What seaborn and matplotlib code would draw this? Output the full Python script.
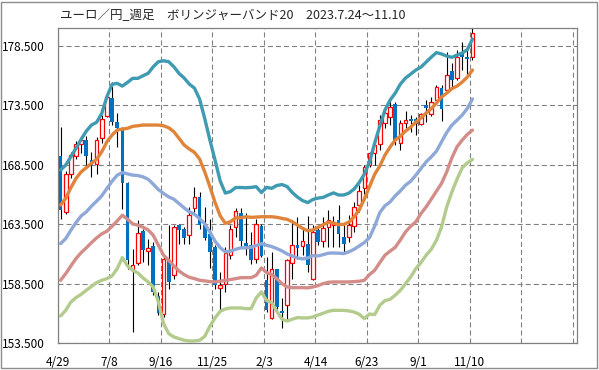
import numpy as np
import pandas as pd
import matplotlib
matplotlib.use("Agg")
import matplotlib.pyplot as plt
import seaborn as sns

# weekly candles, 2022/4/29 - 2023/11/10 (81 weeks)
opens = [169.23, 164.54, 167.77, 169.23, 170.24, 170.63, 168.89, 168.53, 170.78, 172.63,
         174.09, 172.07, 171.56, 167.01, 159.62, 160.27, 162.94, 161.25, 161.65, 157.43,
         155.97, 160.52, 159.20, 163.47, 163.13, 162.57, 164.90, 165.75, 163.47, 162.71,
         161.59, 158.13, 158.50, 160.89, 163.28, 164.48, 161.96, 161.73, 160.55, 163.33,
         158.78, 155.63, 159.71, 156.20, 156.73, 160.27, 161.79, 161.67, 161.81, 158.92,
         163.05, 162.10, 163.28, 163.47, 163.84, 162.43, 162.43, 163.36, 165.10, 166.51,
         168.47, 169.46, 170.24, 171.98, 172.54, 173.61, 170.30, 171.98, 172.32, 172.40,
         171.90, 173.53, 172.74, 173.95, 174.99, 174.79, 176.42, 175.78, 177.88, 177.54,
         177.60]
highs = [171.65, 168.00, 169.60, 170.49, 170.92, 170.92, 169.60, 170.86, 172.69, 174.51,
         175.49, 172.83, 171.70, 167.07, 161.45, 163.84, 163.13, 162.29, 162.01, 157.80,
         160.89, 163.47, 163.42, 163.50, 163.28, 164.96, 166.65, 166.22, 164.96, 163.98,
         161.73, 159.48, 161.59, 163.47, 164.88, 164.88, 164.48, 162.85, 163.98, 163.56,
         160.75, 161.17, 159.76, 157.29, 160.61, 163.70, 164.12, 163.28, 164.20, 163.42,
         163.28, 164.12, 164.68, 164.20, 165.16, 163.42, 164.26, 165.38, 166.84, 168.47,
         169.60, 170.49, 172.69, 173.25, 173.95, 173.81, 172.26, 173.05, 172.69, 172.54,
         172.83, 173.95, 174.23, 175.21, 175.21, 178.02, 177.04, 178.16, 178.87, 178.30,
         180.13]
lows = [163.98, 164.40, 167.35, 169.03, 169.46, 168.33, 167.49, 167.77, 170.30, 172.54,
        171.84, 170.02, 164.82, 159.76, 154.43, 160.05, 160.33, 160.05, 157.52, 155.83,
        155.69, 158.08, 158.92, 161.87, 161.87, 161.87, 164.54, 163.13, 162.15, 159.82,
        158.08, 156.11, 157.80, 160.61, 162.43, 161.59, 160.89, 160.19, 160.27, 160.75,
        156.11, 155.55, 156.39, 154.76, 155.55, 158.92, 160.61, 160.89, 159.48, 158.78,
        161.73, 161.59, 161.59, 161.59, 161.59, 161.17, 162.01, 162.85, 164.54, 166.08,
        168.33, 168.47, 169.74, 171.56, 171.84, 170.16, 169.74, 171.56, 171.28, 171.00,
        171.84, 172.12, 172.60, 173.67, 172.21, 174.65, 174.93, 175.63, 176.48, 176.06,
        177.32]
closes = [164.68, 167.77, 169.31, 170.24, 170.63, 169.26, 168.47, 170.63, 172.32, 174.23,
          172.12, 171.56, 166.93, 160.47, 160.10, 162.77, 161.37, 161.53, 157.80, 156.06,
          160.61, 158.64, 163.28, 163.05, 162.35, 164.31, 165.75, 163.47, 162.35, 161.17,
          158.36, 158.42, 161.08, 163.08, 164.62, 162.10, 161.67, 160.47, 163.50, 160.83,
          156.25, 159.71, 156.53, 156.06, 160.47, 161.79, 161.50, 162.10, 160.05, 162.85,
          162.01, 163.19, 163.84, 163.70, 162.66, 161.81, 163.42, 164.96, 166.28, 168.33,
          169.46, 170.16, 172.26, 172.83, 173.39, 170.52, 171.98, 172.26, 172.21, 171.90,
          172.74, 173.25, 173.75, 175.07, 173.16, 176.06, 175.63, 177.60, 177.60, 177.43,
          179.57]

# bollinger band lines, top to bottom
band_a = [168.06, 168.48, 169.18, 169.89, 170.65, 171.34, 171.85, 172.08, 172.83, 174.23,
          175.28, 175.36, 175.13, 175.44, 175.78, 175.78, 176.00, 176.20, 176.76, 177.18,
          177.26, 177.18, 176.76, 176.20, 175.81, 175.30, 174.96, 174.04, 172.39, 170.59,
          168.90, 167.14, 166.12, 166.25, 166.59, 166.59, 166.57, 166.60, 166.66, 166.17,
          166.60, 166.52, 166.76, 166.84, 166.67, 166.17, 165.79, 165.49, 165.32, 165.58,
          165.70, 165.76, 165.96, 166.14, 165.96, 165.96, 166.12, 166.46, 167.01, 167.72,
          168.73, 170.33, 171.77, 173.11, 173.95, 174.54, 175.30, 175.81, 176.14, 176.48,
          176.73, 177.15, 177.57, 177.95, 177.83, 177.66, 177.55, 177.74, 177.91, 178.20,
          179.09]
band_b = [165.11, 165.68, 166.57, 167.36, 167.91, 168.26, 168.63, 168.96, 169.60, 170.44,
          171.01, 171.43, 171.51, 171.57, 171.74, 171.79, 171.85, 171.85, 171.85, 171.85,
          171.79, 171.62, 171.29, 170.73, 170.17, 169.83, 169.55, 168.99, 167.91, 166.66,
          165.34, 164.21, 163.57, 163.71, 164.04, 164.04, 164.13, 164.08, 164.10, 164.13,
          164.13, 164.13, 164.08, 163.99, 163.91, 163.71, 163.43, 163.15, 162.95, 163.01,
          163.24, 163.46, 163.68, 163.60, 163.46, 163.49, 163.68, 164.11, 164.70, 165.62,
          166.66, 167.70, 168.40, 169.32, 170.00, 170.59, 170.92, 171.34, 171.68, 172.10,
          172.44, 172.86, 173.24, 173.70, 174.21, 174.54, 174.92, 175.13, 175.47, 175.89,
          176.48]
band_c = [161.87, 162.29, 163.00, 163.64, 164.20, 164.54, 165.02, 165.44, 165.89, 166.51,
          167.12, 167.63, 167.85, 167.74, 167.63, 167.60, 167.49, 167.29, 166.87, 166.42,
          166.09, 165.80, 165.61, 165.24, 164.88, 164.54, 164.34, 163.98, 163.53, 162.85,
          162.07, 161.53, 161.17, 161.23, 161.39, 161.51, 161.51, 161.56, 161.70, 161.87,
          161.73, 161.62, 161.45, 161.25, 161.00, 160.83, 160.66, 160.58, 160.66, 160.86,
          160.83, 160.94, 161.06, 161.08, 161.06, 161.03, 161.17, 161.39, 161.67, 161.96,
          162.38, 163.33, 164.48, 165.05, 165.38, 165.89, 166.31, 166.79, 167.12, 167.63,
          168.19, 168.75, 169.17, 169.65, 170.44, 171.23, 171.84, 172.26, 172.69, 173.25,
          174.04]
band_d = [158.78, 159.34, 159.99, 160.61, 161.11, 161.51, 161.95, 162.35, 162.69, 162.91,
          163.33, 163.78, 164.26, 163.92, 163.53, 163.42, 163.25, 163.02, 162.57, 161.73,
          160.89, 160.47, 159.99, 159.57, 159.26, 159.03, 158.92, 158.78, 158.73, 158.67,
          158.64, 158.70, 158.78, 158.84, 158.92, 159.00, 159.00, 159.00, 159.20, 159.82,
          159.43, 159.26, 158.92, 158.50, 158.22, 158.16, 158.16, 158.16, 158.14, 158.22,
          158.33, 158.50, 158.61, 158.64, 158.64, 158.64, 158.64, 158.67, 158.70, 158.78,
          159.26, 159.62, 160.27, 160.89, 161.23, 161.56, 162.18, 162.85, 163.33, 163.70,
          164.40, 164.96, 165.61, 166.28, 166.95, 167.91, 169.09, 170.02, 170.58, 171.06,
          171.42]
band_e = [155.78, 156.25, 156.95, 157.32, 157.60, 157.94, 158.27, 158.58, 158.78, 158.92,
          159.15, 159.76, 160.69, 159.99, 159.62, 159.40, 158.98, 158.64, 158.22, 156.95,
          155.13, 154.29, 154.01, 153.87, 153.73, 153.67, 153.67, 153.73, 154.06, 154.91,
          155.61, 156.17, 156.37, 156.45, 156.45, 156.45, 156.39, 156.39, 157.29, 157.80,
          157.07, 156.90, 156.17, 155.50, 155.35, 155.50, 155.64, 155.61, 155.61, 155.69,
          155.86, 156.00, 156.17, 156.25, 156.25, 156.25, 156.20, 156.11, 155.92, 155.55,
          155.94, 155.89, 156.67, 157.07, 157.18, 157.52, 157.94, 158.50, 159.06, 159.76,
          160.27, 160.89, 161.39, 162.15, 163.28, 164.96, 166.22, 167.29, 168.25, 168.67,
          168.95]

band_names = ["a", "b", "c", "d", "e"]
band_colors = ["#3E9BB2", "#E0843A", "#8EA8D8", "#D38D89", "#B3CC8D"]

tick_labels = ["4/29", "7/8", "9/16", "11/25", "2/3", "4/14", "6/23", "9/1", "11/10", "", ""]
y_ticks = [153.5, 158.5, 163.5, 168.5, 173.5, 178.5]
title = "ユーロ／円_週足　ボリンジャーバンド20　2023.7.24～11.10"

sns.set_theme(style="white")
plt.rcParams['font.family'] = ['Noto Sans CJK JP', 'DejaVu Sans']
plt.rcParams['lines.scale_dashes'] = False

W, H = 599, 370
fig = plt.figure(figsize=(W / 100, H / 100), dpi=100)
ax = fig.add_axes([58 / W, 1 - 343 / H, (577 - 58) / W, (343 - 28) / H])

o = np.array(opens)
h = np.array(highs)
l = np.array(lows)
c = np.array(closes)
x = np.arange(len(o)) + 0.5
up = c >= o

# wicks, then bodies
ax.vlines(x, l, h, color="black", lw=0.8, zorder=2)
ax.bar(x[up], (c - o)[up], bottom=o[up], width=0.7,
       facecolor="white", edgecolor="#FF0000", lw=0.9, zorder=3)
ax.bar(x[~up], (o - c)[~up], bottom=c[~up], width=0.72,
       color="#0070C0", lw=0, zorder=3)

bands = pd.DataFrame({"week": x, "a": band_a, "b": band_b, "c": band_c,
                      "d": band_d, "e": band_e})
bands = bands.melt(id_vars="week", var_name="band", value_name="price")
sns.lineplot(data=bands, x="week", y="price", hue="band", hue_order=band_names,
             palette=band_colors, lw=2.4, legend=False, ax=ax, zorder=4)

ax.set_xlim(0, 100.8)
ax.set_ylim(153.5, 180.02)
ax.set_xticks(np.arange(0, 101, 10))
ax.set_xticklabels(tick_labels)
ax.set_yticks(y_ticks)
ax.set_yticklabels([f"{v:.3f}" for v in y_ticks])
ax.set_xlabel("")
ax.set_ylabel("")
ax.tick_params(axis="both", direction="out", length=3, width=0.8, color="#808080",
               labelsize=8.5, labelcolor="black")
ax.tick_params(axis="y", pad=6.5)
ax.tick_params(axis="x", pad=6.5)
ax.grid(True, color="#808080", lw=0.8, ls=(0, (3.6, 2.2)))
ax.set_axisbelow(True)
for s in ax.spines.values():
    s.set_color("#808080")
    s.set_linewidth(0.9)

fig.text(60 / W, 1 - 15.5 / H, title, fontsize=9, va="center", ha="left")

# outer frame
fig.patches.append(plt.Rectangle((1 / W, 2 / H), 596 / W, 366 / H, fill=False,
                                 ec="#8C8C8C", lw=1.0, transform=fig.transFigure))

fig.savefig("out.png", dpi=100)
